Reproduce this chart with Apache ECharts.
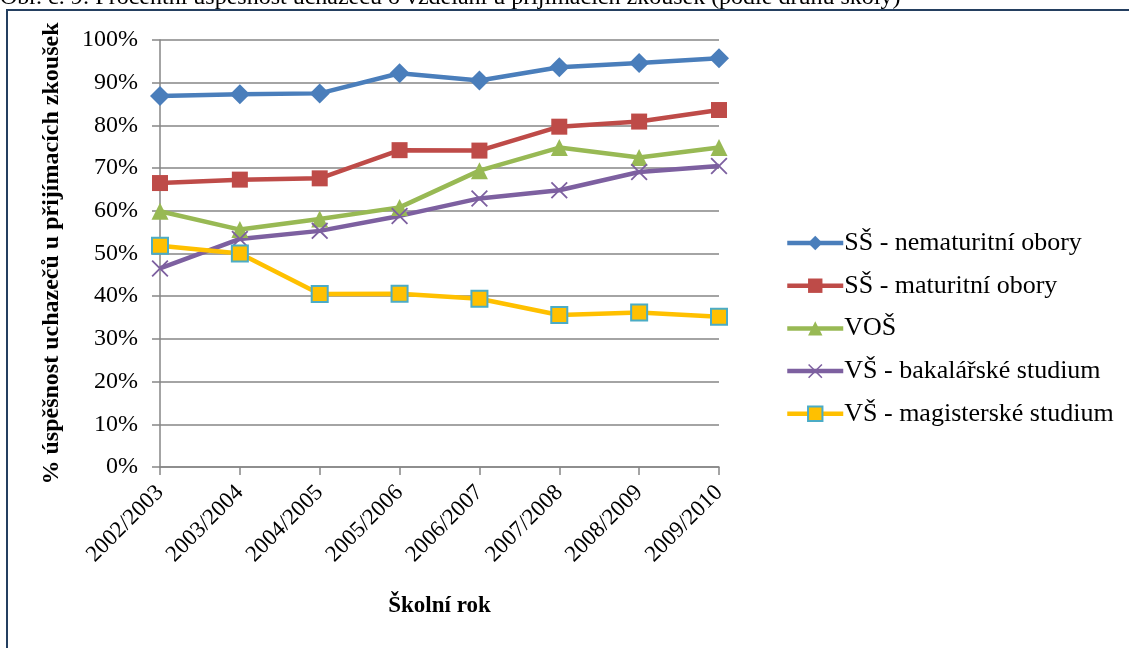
<!DOCTYPE html>
<html>
<head>
<meta charset="utf-8">
<script src="https://cdn.jsdelivr.net/npm/echarts@6/dist/echarts.min.js"></script>
<style>
  html, body { margin: 0; padding: 0; background: #fff; }
  #chart { width: 1129px; height: 648px; }
</style>
</head>
<body>
<div id="chart"></div>
<script>
const years = ['2002/2003', '2003/2004', '2004/2005', '2005/2006', '2006/2007', '2007/2008', '2008/2009', '2009/2010'];
const ssNematuritni = [86.9, 87.3, 87.5, 92.2, 90.5, 93.6, 94.6, 95.7];
const ssMaturitni = [66.5, 67.3, 67.6, 74.2, 74.1, 79.7, 80.9, 83.6];
const vos = [59.9, 55.6, 58.1, 60.8, 69.4, 74.8, 72.5, 74.8];
const vsBakalarske = [46.5, 53.4, 55.3, 58.8, 62.9, 64.8, 69.1, 70.5];
const vsMagisterske = [51.8, 50.0, 40.5, 40.6, 39.4, 35.6, 36.2, 35.2];
const yTicks = [0, 10, 20, 30, 40, 50, 60, 70, 80, 90, 100];

const serif = '"Liberation Serif", "Times New Roman", serif';
const gridColor = '#868686';

const chart = echarts.init(document.getElementById('chart'));

function lineSeries(name, values, color, symbol, size, extra) {
  return Object.assign({
    name: name,
    type: 'line',
    data: values,
    symbol: symbol,
    symbolSize: size,
    showAllSymbol: true,
    lineStyle: { color: color, width: 4.5 },
    itemStyle: { color: color },
    emphasis: { disabled: true }
  }, extra || {});
}

const option = {
  animation: false,
  textStyle: { fontFamily: serif },
  graphic: [
    {
      type: 'text',
      left: 0,
      top: -14,
      style: {
        text: 'Obr. č. 9: Procentní úspěšnost uchazečů o vzdělání u přijímacích zkoušek (podle druhu školy)',
        font: '24px ' + serif,
        fill: '#000'
      }
    },
    {
      type: 'rect',
      shape: { x: 7, y: 10, width: 1400, height: 900 },
      style: { fill: 'none', stroke: '#243F60', lineWidth: 2 }
    }
  ],
  grid: { left: 160, right: 410, top: 40, bottom: 181 },
  legend: {
    orient: 'vertical',
    left: 780,
    top: 225,
    itemWidth: 56,
    itemHeight: 18,
    itemGap: 16.7,
    lineStyle: { width: 4.5 },
    textStyle: { fontFamily: serif, fontSize: 26, lineHeight: 26, color: '#000', padding: [0, 0, 0, -4] },
    data: ['SŠ - nematuritní obory', 'SŠ - maturitní obory', 'VOŠ', 'VŠ - bakalářské studium', 'VŠ - magisterské studium']
  },
  xAxis: {
    type: 'category',
    data: years,
    boundaryGap: false,
    name: 'Školní rok',
    nameLocation: 'middle',
    nameGap: 128,
    nameTextStyle: { fontFamily: serif, fontSize: 23, fontWeight: 'bold', color: '#000' },
    axisLine: { lineStyle: { color: gridColor, width: 1.5 } },
    axisTick: { show: true, length: 8, alignWithLabel: true, lineStyle: { color: gridColor, width: 1.5 } },
    axisLabel: { rotate: 45, fontFamily: serif, fontSize: 23, color: '#000', margin: 22 },
    splitLine: { show: false }
  },
  yAxis: {
    type: 'value',
    min: yTicks[0],
    max: yTicks[yTicks.length - 1],
    interval: 10,
    name: '% úspěšnost uchazečů u přijímacích zkoušek',
    nameLocation: 'middle',
    nameRotate: 90,
    nameGap: 96,
    nameTextStyle: { fontFamily: serif, fontSize: 24, fontWeight: 'bold', color: '#000' },
    axisLine: { show: true, lineStyle: { color: gridColor, width: 1.5 } },
    axisTick: { show: true, length: 8, lineStyle: { color: gridColor, width: 1.5 } },
    axisLabel: { formatter: '{value}%', fontFamily: serif, fontSize: 24, color: '#000', margin: 22 },
    splitLine: { show: true, lineStyle: { color: gridColor, width: 1.5 } }
  },
  series: [
    lineSeries('SŠ - nematuritní obory', ssNematuritni, '#4A7EBB', 'diamond', 20),
    lineSeries('SŠ - maturitní obory', ssMaturitni, '#BE4B48', 'rect', 16),
    lineSeries('VOŠ', vos, '#98B954', 'triangle', 17),
    lineSeries('VŠ - bakalářské studium', vsBakalarske, '#7D60A0', 'path://M0,1.5L1.5,0L10,8.5L18.5,0L20,1.5L11.5,10L20,18.5L18.5,20L10,11.5L1.5,20L0,18.5L8.5,10Z', 17),
    lineSeries('VŠ - magisterské studium', vsMagisterske, '#FFC000', 'rect', 16, {
      itemStyle: { color: '#FFC000', borderColor: '#4BACC6', borderWidth: 2 }
    })
  ]
};

chart.setOption(option);
</script>
</body>
</html>
